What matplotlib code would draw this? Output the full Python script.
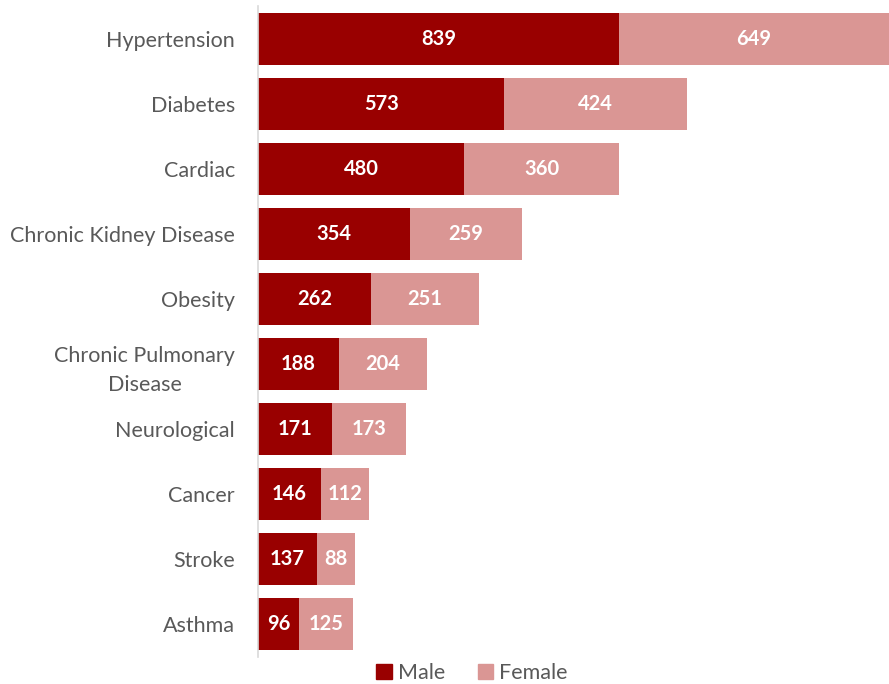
import matplotlib
matplotlib.use("Agg")
import matplotlib.pyplot as plt
from matplotlib.patches import Patch

categories = ["Hypertension", "Diabetes", "Cardiac", "Chronic Kidney Disease", "Obesity",
              "Chronic Pulmonary\nDisease", "Neurological", "Cancer", "Stroke", "Asthma"]
male = [839, 573, 480, 354, 262, 188, 171, 146, 137, 96]
female = [649, 424, 360, 259, 251, 204, 173, 112, 88, 125]

MALE_C = "#990000"
FEMALE_C = "#DA9694"
TEXT_C = "#595959"
FONT = "Lato"

fig = plt.figure(figsize=(8.89, 6.84), dpi=100)
ax = fig.add_axes([258 / 889, 1 - 656.5 / 684, 1 - 258 / 889, (656.5 - 6) / 684])

y = list(range(len(categories)))
ax.barh(y, male, height=0.8, color=MALE_C)
ax.barh(y, female, left=male, height=0.8, color=FEMALE_C)

xmax = 1467
ax.set_xlim(0, xmax)
ax.set_ylim(len(categories) - 0.5, -0.5)

for i, (m, f) in enumerate(zip(male, female)):
    ax.text(m / 2, i, str(m), ha="center", va="center", color="white",
            fontsize=14.5, fontweight="bold", family=FONT)
    right = min(m + f, xmax)
    ax.text((m + right) / 2, i, str(f), ha="center", va="center", color="white",
            fontsize=14.5, fontweight="bold", family=FONT)

ax.set_yticks(y)
ax.set_yticklabels(categories, fontsize=15.5, family=FONT, color=TEXT_C,
                   linespacing=1.6, multialignment="center")
ax.tick_params(axis="y", length=0, pad=16.5)
ax.set_xticks([])
for s in ["top", "right", "bottom"]:
    ax.spines[s].set_visible(False)
ax.spines["left"].set_color("#D9D9D9")
ax.spines["left"].set_linewidth(1.2)

handles = [Patch(color=MALE_C, label="Male"), Patch(color=FEMALE_C, label="Female")]
fig.legend(handles=handles, loc="center", bbox_to_anchor=(472 / 889, 1 - 673 / 684),
           ncol=2, frameon=False, handlelength=0.7, handleheight=0.7,
           handletextpad=0.3, columnspacing=1.5, borderpad=0.1,
           prop={"family": FONT, "size": 15.5}, labelcolor=TEXT_C)

fig.savefig("out.png", dpi=100)
